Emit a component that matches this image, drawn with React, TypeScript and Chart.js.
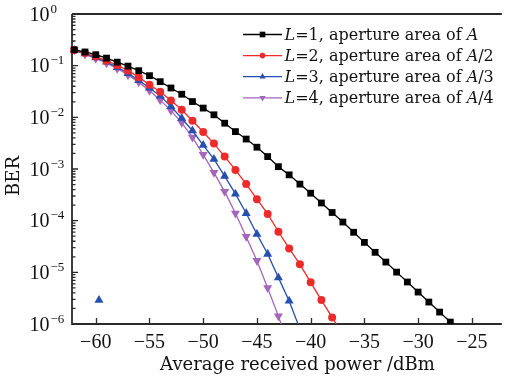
import React, { useEffect, useRef } from "react";
import { Chart, registerables } from "chart.js";

Chart.register(...registerables);

// x positions (dBm), shared by all series (each series uses the first N)
const powerDbm = [
  -62, -61, -60, -59, -58, -57, -56, -55, -54, -53, -52, -51, -50, -49, -48, -47, -46, -45,
  -44, -43, -42, -41, -40, -39, -38, -37, -36, -35, -34, -33, -32, -31, -30, -29, -28, -27,
];

// L=1, aperture area of A
const berL1 = [
  0.203, 0.184, 0.163, 0.14, 0.117, 0.098, 0.08, 0.064, 0.049, 0.037, 0.028, 0.0202, 0.0151,
  0.0112, 0.0077, 0.0053, 0.0038, 0.00264, 0.00174, 0.00111, 7.7e-4, 5.1e-4, 3.4e-4, 2.2e-4,
  1.44e-4, 9.4e-5, 5.96e-5, 3.8e-5, 2.44e-5, 1.58e-5, 1.01e-5, 6.5e-6, 4.15e-6, 2.66e-6,
  1.7e-6, 1.09e-6,
];
// L=2, aperture area of A/2
const berL2 = [
  0.2, 0.175, 0.15, 0.125, 0.102, 0.08, 0.06, 0.0427, 0.0312, 0.0212, 0.014, 8.6e-3, 5.2e-3,
  3.1e-3, 1.74e-3, 9.6e-4, 5.1e-4, 2.6e-4, 1.35e-4, 6.1e-5, 2.9e-5, 1.43e-5, 6.4e-6, 2.9e-6,
  1.34e-6, 6.3e-7,
];
// L=3, aperture area of A/3
const berL3 = [
  0.2, 0.17, 0.143, 0.118, 0.093, 0.071, 0.052, 0.037, 0.026, 0.0162, 9.6e-3, 5.5e-3, 2.9e-3,
  1.55e-3, 7.3e-4, 3.3e-4, 1.39e-4, 5.5e-5, 2.26e-5, 7.9e-6, 2.8e-6, 8e-7,
];
// L=4, aperture area of A/4
const berL4 = [
  0.2, 0.166, 0.138, 0.112, 0.088, 0.066, 0.048, 0.033, 0.0215, 0.0135, 7.9e-3, 4.1e-3, 1.9e-3,
  8.5e-4, 3.65e-4, 1.39e-4, 4.9e-5, 1.68e-5, 5.0e-6, 1.42e-6, 3.5e-7,
];
// lone blue marker near the bottom-left
const strayPower = [-59.7];
const strayBer = [2.9e-6];

const xTicks = [-60, -55, -50, -45, -40, -35, -30, -25];
const yExponents = [0, -1, -2, -3, -4, -5, -6];
const legendSuffixes = ["", "/2", "/3", "/4"];
const legendL = ["1", "2", "3", "4"];

const COLORS = ["#000000", "#ee2a2a", "#2650b0", "#a466ba"];
const STYLES = ["rect", "circle", "triangle", "triangleDown"];

const AXIS = "#2a2a2a";
const TICK_FONT = "Liberation Serif";
const TEXT_FONT = "DejaVu Serif";

function toPts(ys: number[]) {
  return ys.map((y, i) => ({ x: powerDbm[i], y }));
}

function drawMarker(ctx: CanvasRenderingContext2D, style: string, x: number, y: number, r: number, color: string) {
  ctx.save();
  ctx.fillStyle = color;
  ctx.beginPath();
  if (style === "rect") {
    const s = r * Math.SQRT1_2;
    ctx.rect(x - s, y - s, 2 * s, 2 * s);
  } else if (style === "circle") {
    ctx.arc(x, y, r, 0, Math.PI * 2);
  } else if (style === "triangle") {
    ctx.moveTo(x, y - r);
    ctx.lineTo(x + r * 0.866, y + r * 0.5);
    ctx.lineTo(x - r * 0.866, y + r * 0.5);
    ctx.closePath();
  } else {
    ctx.moveTo(x, y + r);
    ctx.lineTo(x + r * 0.866, y - r * 0.5);
    ctx.lineTo(x - r * 0.866, y - r * 0.5);
    ctx.closePath();
  }
  ctx.fill();
  ctx.restore();
}

const framePlugin = {
  id: "frame",
  beforeDatasetsDraw(chart: any) {
    const { ctx, chartArea: a, scales } = chart;
    const xs = scales.x;
    const ys = scales.y;
    ctx.save();
    ctx.strokeStyle = AXIS;
    ctx.lineWidth = 1.8;
    ctx.beginPath();
    ctx.moveTo(a.left, a.top);
    ctx.lineTo(a.right, a.top);
    ctx.moveTo(a.left, a.top);
    ctx.lineTo(a.left, a.bottom);
    ctx.lineTo(a.right, a.bottom);
    ctx.stroke();

    ctx.lineWidth = 1.3;
    ctx.beginPath();
    for (const t of xTicks) {
      const px = Math.round(xs.getPixelForValue(t)) + 0.5;
      ctx.moveTo(px, a.bottom);
      ctx.lineTo(px, a.bottom - 6);
    }
    for (const e of yExponents) {
      const py = ys.getPixelForValue(Math.pow(10, e));
      ctx.moveTo(a.left, py);
      ctx.lineTo(a.left + 6, py);
      if (e < 0) {
        for (let k = 2; k <= 9; k++) {
          const pm = ys.getPixelForValue(k * Math.pow(10, e));
          ctx.moveTo(a.left, pm);
          ctx.lineTo(a.left + 3.5, pm);
        }
      }
    }
    ctx.stroke();
    ctx.restore();
  },
  afterDraw(chart: any) {
    const { ctx, chartArea: a, scales } = chart;
    const xs = scales.x;
    const ys = scales.y;
    ctx.save();
    ctx.fillStyle = "#111";

    // x tick labels
    ctx.font = `20px "${TICK_FONT}"`;
    ctx.textAlign = "center";
    ctx.textBaseline = "alphabetic";
    for (const t of xTicks) {
      const px = xs.getPixelForValue(t);
      const label = t < 0 ? "\u2212" + Math.abs(t) : String(t);
      ctx.fillText(label, px, 347.5);
    }

    // y tick labels 10^e
    for (const e of yExponents) {
      const py = ys.getPixelForValue(Math.pow(10, e));
      ctx.font = `20px "${TICK_FONT}"`;
      ctx.textAlign = "right";
      ctx.fillText("10", 49.5, py + 6.5);
      ctx.font = `13px "${TICK_FONT}"`;
      ctx.textAlign = "left";
      const ex = e < 0 ? "\u2212" + Math.abs(e) : String(e);
      ctx.fillText(ex, 50.5, py - 1.5);
    }

    // axis titles
    ctx.font = `18px "${TEXT_FONT}"`;
    ctx.textAlign = "center";
    ctx.fillText("Average received power /dBm", 297.5, 370);
    ctx.save();
    ctx.translate(19, 176);
    ctx.rotate(-Math.PI / 2);
    ctx.textBaseline = "alphabetic";
    ctx.fillText("BER", 0, 0);
    ctx.restore();

    // legend
    const legX0 = 243;
    const legX1 = 282;
    const legTextX = 284.5;
    for (let i = 0; i < 4; i++) {
      const cy = 34.5 + i * 21.1;
      ctx.strokeStyle = COLORS[i];
      ctx.lineWidth = 1.3;
      ctx.beginPath();
      ctx.moveTo(legX0, cy);
      ctx.lineTo(legX1, cy);
      ctx.stroke();
      drawMarker(ctx, STYLES[i], (legX0 + legX1) / 2, cy, i === 1 ? 2.8 : i === 0 ? 4 : 3.6, COLORS[i]);

      ctx.fillStyle = "#111";
      ctx.textAlign = "left";
      ctx.textBaseline = "alphabetic";
      const parts: [string, boolean][] = [
        ["L", true],
        ["=" + legendL[i] + ", aperture area of ", false],
        ["A", true],
        [legendSuffixes[i], false],
      ];
      let tx = legTextX;
      const by = cy + 5.6;
      for (const [t, it] of parts) {
        if (!t) continue;
        ctx.font = `${it ? "italic " : ""}16px "${TEXT_FONT}"`;
        ctx.fillText(t, tx, by);
        tx += ctx.measureText(t).width;
      }
    }
    ctx.restore();
  },
};

export default function App() {
  const ref = useRef<HTMLCanvasElement | null>(null);

  useEffect(() => {
    if (!ref.current) return;
    const mk = (data: number[], i: number, radius: number) => ({
      label: "L=" + legendL[i],
      data: toPts(data),
      borderColor: COLORS[i],
      backgroundColor: COLORS[i],
      borderWidth: 1.3,
      pointStyle: STYLES[i] === "triangleDown" ? "triangle" : STYLES[i],
      rotation: STYLES[i] === "triangleDown" ? 180 : 0,
      pointRadius: radius,
      pointBorderWidth: 0,
      pointHoverRadius: radius,
      tension: 0,
      clip: { left: false, top: false, right: false, bottom: 0 },
    });
    const chart = new Chart(ref.current, {
      type: "line",
      data: {
        datasets: [
          mk(berL1, 0, 4.8),
          mk(berL2, 1, 4),
          mk(berL3, 2, 5.2),
          mk(berL4, 3, 5.2),
          {
            label: "stray",
            data: strayPower.map((x, i) => ({ x, y: strayBer[i] })),
            showLine: false,
            borderColor: COLORS[2],
            backgroundColor: COLORS[2],
            pointStyle: "triangle",
            pointRadius: 5.2,
            pointBorderWidth: 0,
            clip: { left: false, top: false, right: false, bottom: 0 },
          } as any,
        ],
      },
      options: {
        animation: false,
        responsive: false,
        maintainAspectRatio: false,
        devicePixelRatio: 1,
        events: [],
        layout: { padding: { left: 72, top: 14, right: 0, bottom: 55 } },
        plugins: {
          legend: { display: false },
          tooltip: { enabled: false },
          title: { display: false },
        },
        scales: {
          x: { type: "linear", min: -62.21, max: -22.21, display: false },
          y: { type: "logarithmic", min: 1e-6, max: 1, display: false },
        },
      } as any,
      plugins: [framePlugin],
    });
    return () => chart.destroy();
  }, []);

  return (
    <div style={{ position: "fixed", left: 0, top: 0, width: 507, height: 379, background: "#fff" }}>
      <canvas ref={ref} width={507} height={379} style={{ display: "block", width: 507, height: 379 }} />
    </div>
  );
}
